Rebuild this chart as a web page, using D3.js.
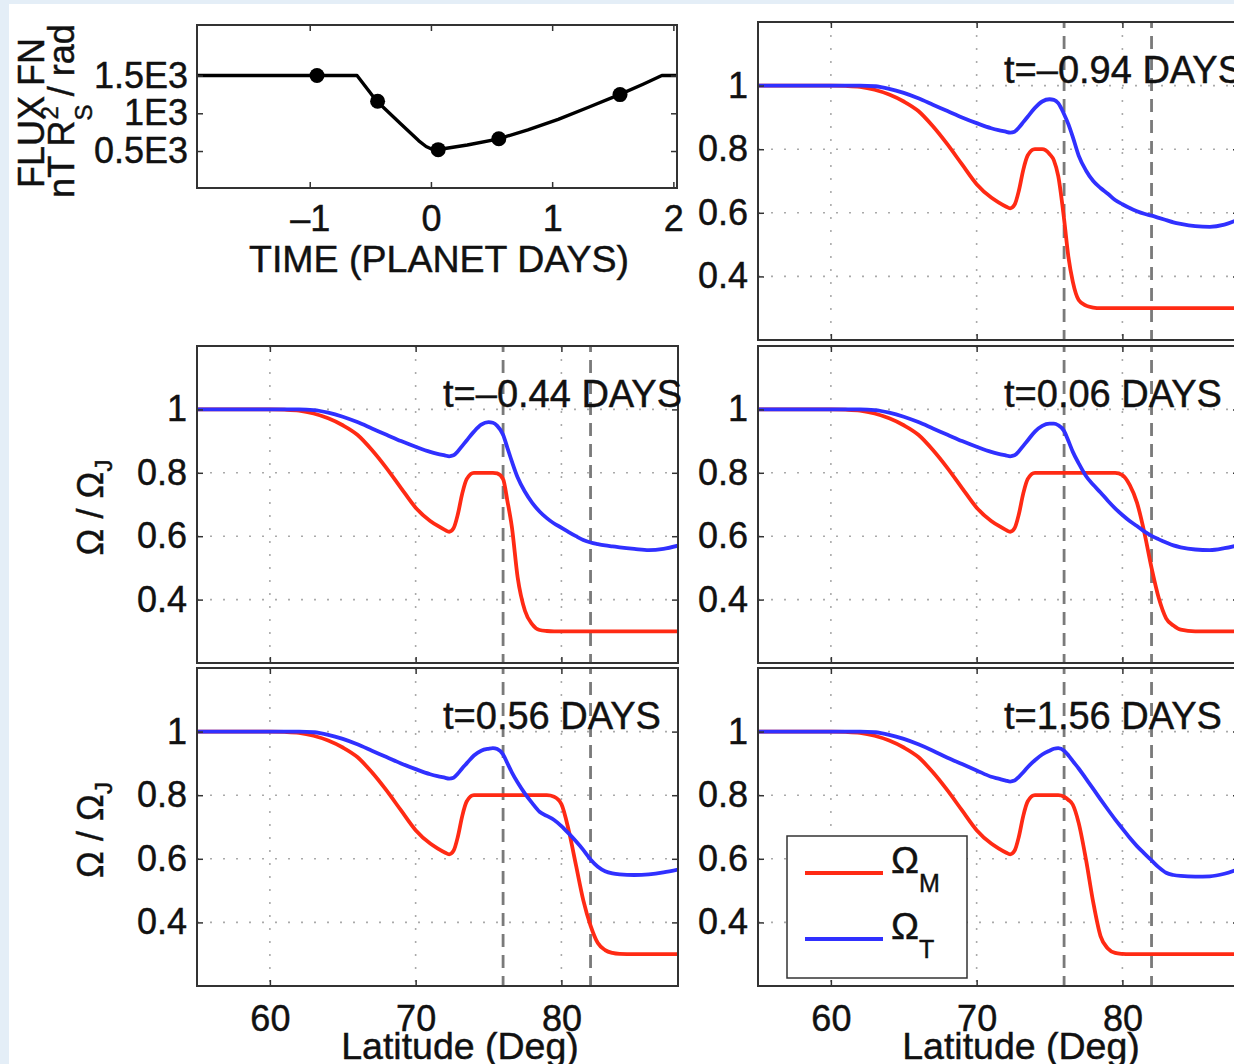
<!DOCTYPE html>
<html>
<head>
<meta charset="utf-8">
<script src="https://cdn.jsdelivr.net/npm/d3@7"></script>
<style>
  body { margin: 0; background: #fff; }
  svg { display: block; }
  svg text { stroke: #111; stroke-width: 0.45px; }
</style>
</head>
<body>
<div id="chart"></div>
<script>
// ---- data ----
const latitude = [55, 60, 61, 62, 63, 64, 65, 66, 67, 68, 69, 70, 71, 71.5, 72, 72.3, 72.6, 72.9, 73.2, 73.5,
  74, 74.5, 75, 75.3, 75.6, 76, 76.3, 76.6, 77, 77.5, 78, 78.5, 79, 79.5, 80, 80.5, 81, 81.5, 82, 82.5,
  83, 83.5, 84, 85, 86, 87, 88];

// Omega_M (red), one array per snapshot
const omegaM_m094 = [1, 1, 0.999, 0.996, 0.987, 0.972, 0.95, 0.92, 0.872, 0.815, 0.752, 0.69, 0.648, 0.633, 0.62, 0.614, 0.625, 0.67, 0.735, 0.78,
  0.8, 0.8, 0.785, 0.765, 0.715, 0.58, 0.46, 0.383, 0.326, 0.308, 0.302, 0.3, 0.3, 0.3, 0.3, 0.3, 0.3, 0.3, 0.3, 0.3,
  0.3, 0.3, 0.3, 0.3, 0.3, 0.3, 0.3];
const omegaM_m044 = [1, 1, 0.999, 0.996, 0.987, 0.972, 0.95, 0.92, 0.872, 0.815, 0.752, 0.69, 0.648, 0.633, 0.62, 0.614, 0.625, 0.67, 0.735, 0.78,
  0.8, 0.8, 0.8, 0.8, 0.798, 0.78, 0.71, 0.63, 0.47, 0.365, 0.322, 0.304, 0.301, 0.3, 0.3, 0.3, 0.3, 0.3, 0.3, 0.3,
  0.3, 0.3, 0.3, 0.3, 0.3, 0.3, 0.3];
const omegaM_p006 = [1, 1, 0.999, 0.996, 0.987, 0.972, 0.95, 0.92, 0.872, 0.815, 0.752, 0.69, 0.648, 0.633, 0.62, 0.614, 0.625, 0.67, 0.735, 0.78,
  0.8, 0.8, 0.8, 0.8, 0.8, 0.8, 0.8, 0.8, 0.8, 0.8, 0.8, 0.8, 0.8, 0.8, 0.793, 0.762, 0.706, 0.613, 0.5, 0.404,
  0.341, 0.318, 0.305, 0.3, 0.3, 0.3, 0.3];
const omegaM_p056 = [1, 1, 0.999, 0.996, 0.987, 0.972, 0.95, 0.92, 0.872, 0.815, 0.752, 0.69, 0.648, 0.633, 0.62, 0.614, 0.625, 0.67, 0.735, 0.78,
  0.8, 0.8, 0.8, 0.8, 0.8, 0.8, 0.8, 0.8, 0.8, 0.8, 0.8, 0.8, 0.8, 0.795, 0.772, 0.69, 0.58, 0.47, 0.39, 0.335,
  0.313, 0.304, 0.301, 0.3, 0.3, 0.3, 0.3];
const omegaM_p156 = [1, 1, 0.999, 0.996, 0.987, 0.972, 0.95, 0.92, 0.872, 0.815, 0.752, 0.69, 0.648, 0.633, 0.62, 0.614, 0.625, 0.67, 0.735, 0.78,
  0.8, 0.8, 0.8, 0.8, 0.8, 0.795, 0.785, 0.77, 0.713, 0.598, 0.463, 0.357, 0.318, 0.304, 0.301, 0.3, 0.3, 0.3, 0.3, 0.3,
  0.3, 0.3, 0.3, 0.3, 0.3, 0.3, 0.3];

// Omega_T (blue)
const omegaT_m094 = [1, 1, 1, 1, 0.998, 0.99, 0.977, 0.96, 0.94, 0.92, 0.9, 0.882, 0.866, 0.86, 0.855, 0.852, 0.855, 0.868, 0.885, 0.902,
  0.93, 0.95, 0.957, 0.955, 0.945, 0.91, 0.878, 0.838, 0.78, 0.733, 0.7, 0.678, 0.66, 0.64, 0.627, 0.615, 0.605, 0.597, 0.591, 0.584,
  0.577, 0.57, 0.565, 0.558, 0.556, 0.563, 0.58];
const omegaT_m044 = [1, 1, 1, 1, 0.998, 0.99, 0.977, 0.96, 0.94, 0.92, 0.9, 0.882, 0.866, 0.86, 0.855, 0.852, 0.855, 0.868, 0.885, 0.902,
  0.93, 0.952, 0.96, 0.958, 0.948, 0.92, 0.878, 0.836, 0.785, 0.74, 0.705, 0.678, 0.657, 0.64, 0.627, 0.613, 0.6, 0.588, 0.58, 0.575,
  0.571, 0.568, 0.565, 0.56, 0.556, 0.56, 0.57];
const omegaT_p006 = [1, 1, 1, 1, 0.998, 0.99, 0.977, 0.96, 0.94, 0.92, 0.9, 0.882, 0.866, 0.86, 0.855, 0.852, 0.855, 0.868, 0.885, 0.902,
  0.93, 0.948, 0.955, 0.955, 0.95, 0.932, 0.9, 0.866, 0.83, 0.79, 0.762, 0.738, 0.712, 0.688, 0.667, 0.648, 0.632, 0.615, 0.601, 0.59,
  0.58, 0.571, 0.565, 0.558, 0.556, 0.562, 0.572];
const omegaT_p056 = [1, 1, 1, 1, 0.998, 0.99, 0.977, 0.96, 0.94, 0.92, 0.9, 0.882, 0.866, 0.86, 0.855, 0.852, 0.855, 0.868, 0.885, 0.9,
  0.925, 0.94, 0.946, 0.948, 0.945, 0.928, 0.9, 0.872, 0.84, 0.805, 0.775, 0.748, 0.735, 0.722, 0.703, 0.68, 0.655, 0.628, 0.598, 0.575,
  0.561, 0.554, 0.551, 0.549, 0.551, 0.557, 0.566];
const omegaT_p156 = [1, 1, 1, 1, 0.998, 0.99, 0.977, 0.96, 0.94, 0.918, 0.898, 0.878, 0.858, 0.852, 0.846, 0.843, 0.846, 0.858, 0.872, 0.888,
  0.91, 0.928, 0.94, 0.946, 0.948, 0.94, 0.925, 0.907, 0.884, 0.852, 0.82, 0.787, 0.755, 0.724, 0.695, 0.666, 0.64, 0.617, 0.595, 0.573,
  0.556, 0.549, 0.546, 0.544, 0.545, 0.553, 0.568];

const snapshotLabels = ["t=\u20130.94 DAYS", "t=\u20130.44 DAYS", "t=0.06 DAYS", "t=0.56 DAYS", "t=1.56 DAYS"];
const seriesNames = ["M", "T"];

// flux function vs time (top-left inset)
const fluxTime = [-1.93, -0.61, -0.45, -0.25, -0.1, -0.04, 0, 0.05, 0.3, 0.55, 0.8, 1.05, 1.3, 1.55, 1.75, 1.905, 2.03];
const fluxValue = [1500, 1500, 1165, 860, 635, 560, 530, 517, 580, 658, 780, 920, 1080, 1244, 1385, 1500, 1500];
const snapshotTime = [-0.94, -0.44, 0.06, 0.56, 1.56];
const snapshotFlux = [1500, 1160, 518, 662, 1248];

const latTicks = [60, 70, 80];
const omegaTicks = [0.4, 0.6, 0.8, 1];
const markerLats = [76, 82];
const timeTicks = [-1, 0, 1, 2];
const fluxTicks = [500, 1000, 1500];
const fluxTickLabels = ["0.5E3", "1E3", "1.5E3"];

// ---- drawing ----
const W = 1234, H = 1064;
const FONT = '"Liberation Sans", Arial, Helvetica, sans-serif';
const FS = 36;      // tick labels
const FT = 37.5;    // titles and snapshot labels
const RED = "#ff2a14", BLUE = "#3030ff";

const svg = d3.select("#chart").append("svg")
  .attr("width", W).attr("height", H)
  .attr("font-family", FONT);

svg.append("rect").attr("width", W).attr("height", H).attr("fill", "#fff");
svg.append("rect").attr("width", W).attr("height", 4).attr("fill", "#e4eef7");
svg.append("rect").attr("width", 9).attr("height", H).attr("fill", "#e4eef7");

function styleAxis(sel) {
  sel.attr("font-size", FS).attr("font-family", FONT).attr("color", "#111");
  sel.select(".domain").remove();
  sel.selectAll(".tick line").attr("stroke", "#333").attr("stroke-width", 1.5);
}

// panel frames (x, y, w, h) in page pixels
const panels = [
  { x: 758, y: 22, w: 481, h: 318, m: omegaM_m094, t: omegaT_m094, xLabels: false, yTitle: false },
  { x: 197, y: 346, w: 481, h: 317, m: omegaM_m044, t: omegaT_m044, xLabels: false, yTitle: true },
  { x: 758, y: 346, w: 481, h: 317, m: omegaM_p006, t: omegaT_p006, xLabels: false, yTitle: false },
  { x: 197, y: 668, w: 481, h: 318, m: omegaM_p056, t: omegaT_p056, xLabels: true, yTitle: true },
  { x: 758, y: 668, w: 481, h: 318, m: omegaM_p156, t: omegaT_p156, xLabels: true, yTitle: false, legend: true }
];

panels.forEach(function (p, i) {
  const g = svg.append("g").attr("transform", "translate(" + p.x + "," + p.y + ")");
  const x = d3.scaleLinear().domain([55, 88]).range([0, p.w]);
  const y = d3.scaleLinear().domain([0.2, 1.2]).range([p.h, 0]);

  g.append("clipPath").attr("id", "clip" + i)
    .append("rect").attr("width", p.w).attr("height", p.h);

  // dotted grid
  g.append("g").selectAll("line").data(latTicks).join("line")
    .attr("x1", (d) => x(d)).attr("x2", (d) => x(d))
    .attr("y1", 0).attr("y2", p.h);
  g.append("g").selectAll("line").data(omegaTicks).join("line")
    .attr("x1", 0).attr("x2", p.w)
    .attr("y1", (d) => y(d)).attr("y2", (d) => y(d));
  g.selectAll("g line")
    .attr("stroke", "#aaa").attr("stroke-width", 1.6).attr("stroke-dasharray", "2,11");

  // dashed latitude markers
  g.append("g").selectAll("line").data(markerLats).join("line")
    .attr("x1", (d) => x(d)).attr("x2", (d) => x(d))
    .attr("y1", 0).attr("y2", p.h)
    .attr("stroke", "#7a7a7a").attr("stroke-width", 2.8).attr("stroke-dasharray", "13,8")
    .attr("stroke-dashoffset", -14);

  const line = d3.line()
    .x((d) => x(d[0]))
    .y((d) => y(d[1]))
    .curve(d3.curveMonotoneX);

  const curves = g.append("g").attr("clip-path", "url(#clip" + i + ")");
  curves.append("path").datum(d3.zip(latitude, p.m)).attr("d", line)
    .attr("fill", "none").attr("stroke", RED).attr("stroke-width", 3.8);
  curves.append("path").datum(d3.zip(latitude, p.t)).attr("d", line)
    .attr("fill", "none").attr("stroke", BLUE).attr("stroke-width", 3.8);

  // axes with inward ticks
  g.append("g").attr("transform", "translate(0," + p.h + ")")
    .call(d3.axisBottom(x).tickValues(latTicks).tickSize(-6).tickPadding(19)
      .tickFormat(p.xLabels ? (d) => String(d) : () => ""))
    .call(styleAxis);
  g.append("g")
    .call(d3.axisTop(x).tickValues(latTicks).tickSize(-6).tickFormat(() => ""))
    .call(styleAxis);
  g.append("g")
    .call(d3.axisLeft(y).tickValues(omegaTicks).tickSize(-6).tickPadding(10)
      .tickFormat((d) => String(d)))
    .call(styleAxis);
  g.append("g").attr("transform", "translate(" + p.w + ",0)")
    .call(d3.axisRight(y).tickValues(omegaTicks).tickSize(-6).tickFormat(() => ""))
    .call(styleAxis);

  g.append("rect").attr("width", p.w).attr("height", p.h)
    .attr("fill", "none").attr("stroke", "#333").attr("stroke-width", 2);

  g.append("text").attr("x", 246).attr("y", 61)
    .attr("font-size", FT + 0.5).attr("fill", "#111")
    .text(snapshotLabels[i]);

  if (p.xLabels) {
    g.append("text").attr("x", 263).attr("y", p.h + 73)
      .attr("text-anchor", "middle").attr("font-size", FT).attr("fill", "#111")
      .text("Latitude (Deg)");
  }

  if (p.yTitle) {
    const t = svg.append("text")
      .attr("transform", "translate(103," + (p.y + p.h / 2 + 3) + ") rotate(-90)")
      .attr("text-anchor", "middle").attr("font-size", FS).attr("fill", "#111");
    t.append("tspan").text("\u03A9 / \u03A9");
    t.append("tspan").attr("font-size", 24).attr("dy", 9).text("J");
  }

  if (p.legend) {
    const lg = g.append("g").attr("transform", "translate(29,168)");
    lg.append("rect").attr("width", 180).attr("height", 142)
      .attr("fill", "#fff").attr("stroke", "#333").attr("stroke-width", 1.5);
    const colors = [RED, BLUE];
    seriesNames.forEach(function (name, k) {
      const ly = 37 + k * 66;
      lg.append("line").attr("x1", 18).attr("x2", 96).attr("y1", ly).attr("y2", ly)
        .attr("stroke", colors[k]).attr("stroke-width", 3.8);
      const tx = lg.append("text").attr("x", 104).attr("y", ly)
        .attr("font-size", FT).attr("fill", "#111");
      tx.append("tspan").text("\u03A9");
      tx.append("tspan").attr("font-size", 25).attr("dy", 19).text(name);
    });
  }
});

// ---- flux inset ----
const fp = { x: 197, y: 25, w: 480, h: 163 };
const fg = svg.append("g").attr("transform", "translate(" + fp.x + "," + fp.y + ")");
const fx = d3.scaleLinear().domain([-1.93, 2.03]).range([0, fp.w]);
const fy = d3.scaleLinear().domain([10, 2170]).range([fp.h, 0]);

fg.append("path").datum(d3.zip(fluxTime, fluxValue))
  .attr("d", d3.line().x((d) => fx(d[0])).y((d) => fy(d[1])))
  .attr("fill", "none").attr("stroke", "#000").attr("stroke-width", 3.4)
  .attr("stroke-linejoin", "round");

fg.selectAll(".dot").data(d3.zip(snapshotTime, snapshotFlux)).join("circle")
  .attr("class", "dot")
  .attr("cx", (d) => fx(d[0])).attr("cy", (d) => fy(d[1]))
  .attr("r", 7.5).attr("fill", "#000");

fg.append("g").attr("transform", "translate(0," + fp.h + ")")
  .call(d3.axisBottom(fx).tickValues(timeTicks).tickSize(-6).tickPadding(17)
    .tickFormat((d) => (d < 0 ? "\u2013" + Math.abs(d) : String(d))))
  .call(styleAxis);
fg.append("g")
  .call(d3.axisTop(fx).tickValues(timeTicks).tickSize(-6).tickFormat(() => ""))
  .call(styleAxis);
fg.append("g")
  .call(d3.axisLeft(fy).tickValues(fluxTicks).tickSize(-6).tickPadding(9)
    .tickFormat((d, k) => fluxTickLabels[k]))
  .call(styleAxis);
fg.append("g").attr("transform", "translate(" + fp.w + ",0)")
  .call(d3.axisRight(fy).tickValues(fluxTicks).tickSize(-6).tickFormat(() => ""))
  .call(styleAxis);
fg.append("rect").attr("width", fp.w).attr("height", fp.h)
  .attr("fill", "none").attr("stroke", "#333").attr("stroke-width", 2);

fg.append("text").attr("x", fp.w / 2 + 2).attr("y", 247)
  .attr("text-anchor", "middle").attr("font-size", FT).attr("fill", "#111")
  .text("TIME (PLANET DAYS)");

svg.append("text")
  .attr("transform", "translate(44,113) rotate(-90)")
  .attr("text-anchor", "middle").attr("font-size", FS).attr("fill", "#111")
  .text("FLUX FN");

const unit = svg.append("text")
  .attr("transform", "translate(74,111) rotate(-90)")
  .attr("text-anchor", "middle").attr("font-size", FS).attr("fill", "#111");
unit.append("tspan").text("nT R");
unit.append("tspan").attr("font-size", 24).attr("dy", 18).text("S");
unit.append("tspan").attr("font-size", 24).attr("dx", -15).attr("dy", -34).text("2");
unit.append("tspan").attr("dy", 16).text(" / rad");
</script>
</body>
</html>
